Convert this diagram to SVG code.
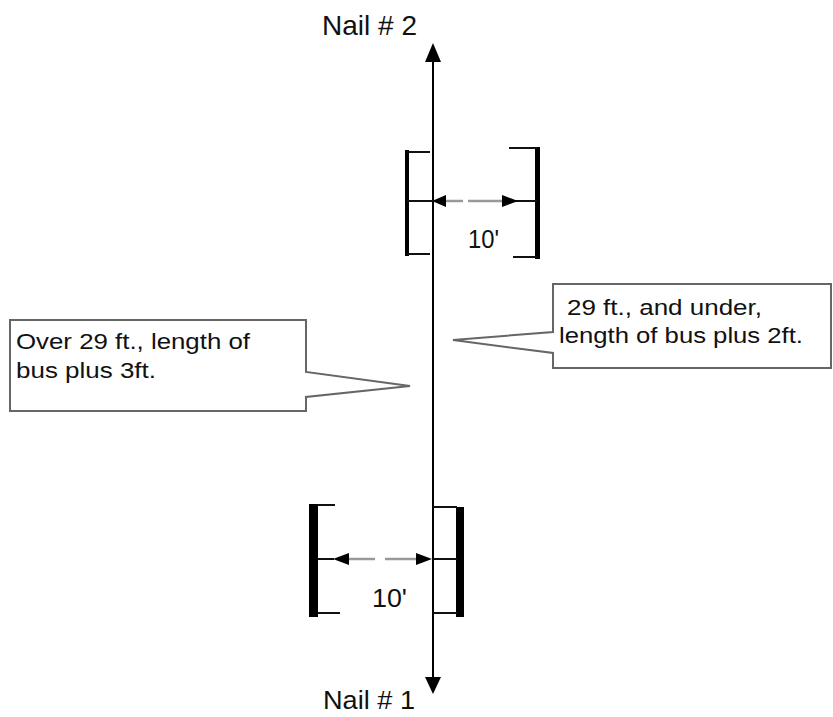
<svg xmlns="http://www.w3.org/2000/svg" width="833" height="717" viewBox="0 0 833 717">
<style>
.t{font-family:"Liberation Sans",Arial,sans-serif;fill:#111}
.bar{stroke:#000;fill:none}
.tick{stroke:#111;stroke-width:2;fill:none}
.dim{stroke:#999;stroke-width:2.5;fill:none}
.call{fill:#fff;stroke:#666;stroke-width:2}
</style>
<rect width="833" height="717" fill="#fff"/>
<g id="connectors">
<line x1="433" y1="688" x2="433" y2="58" stroke="#000" stroke-width="2"/>
<path d="M433,43 L425,62 L441,62 Z" fill="#000"/>
<path d="M433,694 L425,677 L441,677 Z" fill="#000"/>
</g>
<g id="nail2"><text class="t" x="322" y="35" font-size="28" textLength="95" lengthAdjust="spacingAndGlyphs">Nail # 2</text></g>
<g id="nail1"><text class="t" x="323" y="709" font-size="26" textLength="92" lengthAdjust="spacingAndGlyphs">Nail # 1</text></g>
<g id="bracket-top">
<line class="bar" x1="407" y1="150" x2="407" y2="256" stroke-width="4"/>
<polyline class="tick" points="430,152 407,152"/>
<polyline class="tick" points="430,254 407,254"/>
<line class="tick" x1="407" y1="201" x2="433" y2="201"/>
<line class="bar" x1="537.5" y1="147" x2="537.5" y2="259" stroke-width="5"/>
<polyline class="tick" points="509,148 537,148"/>
<polyline class="tick" points="513,257 537,257"/>
<line class="tick" x1="502" y1="201" x2="537" y2="201"/>
<line class="dim" x1="444" y1="201" x2="463" y2="201"/>
<line class="dim" x1="468" y1="201" x2="504" y2="201"/>
<path d="M432,201 L446,195 L446,207 Z" fill="#000"/>
<path d="M518,201 L502,195 L502,207 Z" fill="#000"/>
<text class="t" x="468" y="248" font-size="25" textLength="31" lengthAdjust="spacingAndGlyphs">10'</text>
</g>
<g id="bracket-bottom">
<line class="bar" x1="313.5" y1="504" x2="313.5" y2="617" stroke-width="9"/>
<polyline class="tick" points="318,505 335,505"/>
<polyline class="tick" points="318,613 340,613"/>
<line class="tick" x1="318" y1="559" x2="334" y2="559"/>
<line class="bar" x1="460" y1="507" x2="460" y2="617" stroke-width="8"/>
<polyline class="tick" points="433,507 457,507"/>
<polyline class="tick" points="433,613 457,613"/>
<line class="tick" x1="433" y1="559" x2="457" y2="559"/>
<line class="dim" x1="348" y1="559" x2="375" y2="559"/>
<line class="dim" x1="385" y1="559" x2="418" y2="559"/>
<path d="M333,559 L349,553 L349,565 Z" fill="#000"/>
<path d="M432,559 L416,553 L416,565 Z" fill="#000"/>
<text class="t" x="372" y="607" font-size="25" textLength="35" lengthAdjust="spacingAndGlyphs">10'</text>
</g>
<g id="callout-left">
<path class="call" d="M10,320 L306,320 L306,372 L410,386 L306,397 L306,411 L10,411 Z"/>
<text class="t" x="16" y="349" font-size="22" textLength="234" lengthAdjust="spacingAndGlyphs">Over 29 ft., length of</text>
<text class="t" x="16" y="378" font-size="22" textLength="140" lengthAdjust="spacingAndGlyphs">bus plus 3ft.</text>
</g>
<g id="callout-right">
<path class="call" d="M553,284 L831,284 L831,368 L553,368 L553,353 L453,340 L553,332 Z"/>
<text class="t" x="567" y="315" font-size="22" textLength="195" lengthAdjust="spacingAndGlyphs">29 ft., and under,</text>
<text class="t" x="559" y="343" font-size="22" textLength="244" lengthAdjust="spacingAndGlyphs">length of bus plus 2ft.</text>
</g>
</svg>
